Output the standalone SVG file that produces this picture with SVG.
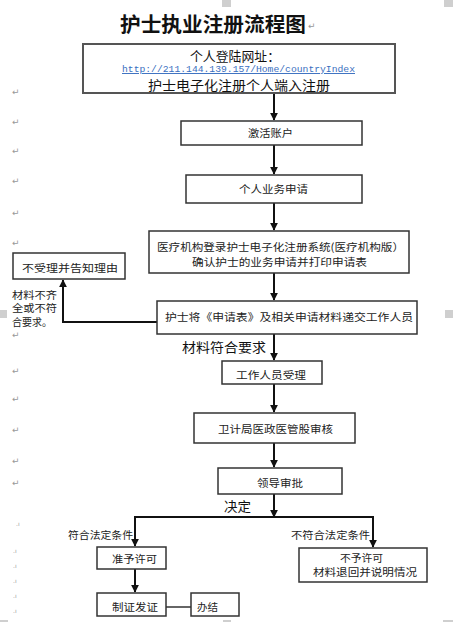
<svg xmlns="http://www.w3.org/2000/svg" width="457" height="622" viewBox="0 0 457 622">
<style>
.box{fill:#fff;stroke:#333;stroke-width:1.5}
.t{font-family:"Noto Sans CJK SC","Noto Sans",sans-serif;font-size:10.5px;fill:#222}
.b{font-family:"Noto Sans CJK SC","Noto Sans",sans-serif;font-size:13px;fill:#111}
.pm{font-family:"DejaVu Sans",sans-serif;font-size:9px;fill:#999}
.ln{fill:none;stroke:#111;stroke-width:2}
.hd{fill:#cfcfcf}
</style>
<defs>
<marker id="ah" viewBox="0 0 10 10" refX="9" refY="5" markerWidth="4" markerHeight="4" orient="auto" markerUnits="strokeWidth">
<path d="M0,0 L10,5 L0,10 z" fill="#111"/>
</marker>
</defs>
<rect width="457" height="622" fill="#fff"/>
<g id="handles">
<rect class="hd" x="222" y="0" width="9" height="7"/>
<rect class="hd" x="444" y="0" width="9" height="7"/>
<rect class="hd" x="0" y="310" width="7" height="8"/>
<rect class="hd" x="445" y="310" width="8" height="8"/>
<rect class="hd" x="0" y="620" width="8" height="2"/>
<rect class="hd" x="223" y="620" width="8" height="2"/>
<rect class="hd" x="443" y="620" width="10" height="2"/>
</g>
<g id="title">
<text x="120" y="32" font-family="'Noto Sans CJK SC',sans-serif" font-size="20" font-weight="700" fill="#111" textLength="186" lengthAdjust="spacingAndGlyphs">护士执业注册流程图</text>
<text class="pm" x="308" y="29" font-size="10">↵</text>
</g>
<g id="marks" class="pm">
<text x="12" y="95">↵</text><text x="12" y="125">↵</text><text x="12" y="154">↵</text><text x="12" y="184">↵</text><text x="12" y="216">↵</text><text x="12" y="246">↵</text><text x="12" y="338">↵</text><text x="12" y="374">↵</text><text x="12" y="402">↵</text><text x="12" y="433">↵</text><text x="12" y="464">↵</text><text x="12" y="486">↵</text>
<text x="16" y="526" font-size="6">.ı</text><text x="13" y="553" font-size="6">.ı</text><text x="13" y="568" font-size="6">.ı</text><text x="13" y="583" font-size="6">.ı</text><text x="13" y="598" font-size="6">.ı</text><text x="13" y="613" font-size="6">.ı</text>
</g>
<g id="connectors">
<line class="ln" x1="274" y1="93" x2="274" y2="120" marker-end="url(#ah)"/>
<line class="ln" x1="274" y1="145" x2="274" y2="174" marker-end="url(#ah)"/>
<line class="ln" x1="274" y1="203" x2="274" y2="230" marker-end="url(#ah)"/>
<line class="ln" x1="274" y1="273" x2="274" y2="300" marker-end="url(#ah)"/>
<line class="ln" x1="274" y1="334" x2="274" y2="360" marker-end="url(#ah)"/>
<line class="ln" x1="274" y1="384" x2="274" y2="412" marker-end="url(#ah)"/>
<line class="ln" x1="274" y1="443" x2="274" y2="467" marker-end="url(#ah)"/>
<line class="ln" x1="274" y1="494" x2="274" y2="517" marker-end="url(#ah)"/>
<polyline class="ln" points="157,322 63,322 63,280" marker-end="url(#ah)"/>
<polyline class="ln" points="135,546 135,517 373,517 373,547" marker-end="url(#ah)"/>
<line class="ln" x1="135" y1="518" x2="135" y2="546" marker-end="url(#ah)"/>
<line class="ln" x1="135" y1="569" x2="135" y2="592" marker-end="url(#ah)"/>
<line x1="166" y1="607" x2="191" y2="607" stroke="#333" stroke-width="1.5"/>
<text class="b" x="182" y="352" textLength="84" lengthAdjust="spacingAndGlyphs">材料符合要求</text>
<text class="b" x="224" y="511" textLength="27" lengthAdjust="spacingAndGlyphs">决定</text>
<text class="t" x="68" y="539" font-size="9.5" textLength="65" lengthAdjust="spacingAndGlyphs">符合法定条件</text>
<text class="t" x="291" y="539" font-size="9.5" textLength="79" lengthAdjust="spacingAndGlyphs">不符合法定条件</text>
<text class="t" x="12" y="298.5" font-size="9" textLength="45" lengthAdjust="spacingAndGlyphs">材料不齐</text>
<text class="t" x="12" y="312" font-size="9" textLength="45" lengthAdjust="spacingAndGlyphs">全或不符</text>
<text class="t" x="12" y="325.5" font-size="9" textLength="40" lengthAdjust="spacingAndGlyphs">合要求。</text>
</g>
<g id="n1">
<rect x="83" y="44" width="312" height="49" fill="#fff" stroke="#555" stroke-width="2"/>
<text class="b" x="190" y="61" textLength="90" lengthAdjust="spacingAndGlyphs">个人登陆网址：</text>
<text x="122" y="72" font-family="'Liberation Mono',monospace" font-size="9.6" fill="#3a6fc0" text-decoration="underline" textLength="233" lengthAdjust="spacingAndGlyphs">http://211.144.139.157/Home/countryIndex</text>
<text class="b" x="148" y="89.5" font-size="12.5" textLength="182" lengthAdjust="spacingAndGlyphs">护士电子化注册个人端入注册</text>
</g>
<g id="n2">
<rect class="box" x="181" y="121" width="181" height="24"/>
<text class="t" x="248" y="137" textLength="45" lengthAdjust="spacingAndGlyphs">激活账户</text>
</g>
<g id="n3">
<rect class="box" x="186" y="175" width="176" height="28"/>
<text class="t" x="239" y="193" textLength="69" lengthAdjust="spacingAndGlyphs">个人业务申请</text>
</g>
<g id="n4">
<rect class="box" x="149" y="231" width="260" height="42"/>
<text class="t" x="157" y="251" textLength="247" lengthAdjust="spacingAndGlyphs">医疗机构登录护士电子化注册系统(医疗机构版）</text>
<text class="t" x="192" y="266" textLength="175" lengthAdjust="spacingAndGlyphs">确认护士的业务申请并打印申请表</text>
</g>
<g id="n5">
<rect class="box" x="13" y="253" width="112" height="26"/>
<text class="t" x="22" y="272" textLength="96" lengthAdjust="spacingAndGlyphs">不受理并告知理由</text>
</g>
<g id="n6">
<rect class="box" x="157" y="301" width="260" height="33"/>
<text class="t" x="165" y="321" textLength="248" lengthAdjust="spacingAndGlyphs">护士将《申请表》及相关申请材料递交工作人员</text>
</g>
<g id="n7">
<rect class="box" x="222" y="361" width="100" height="23"/>
<text class="t" x="236" y="379" textLength="70" lengthAdjust="spacingAndGlyphs">工作人员受理</text>
</g>
<g id="n8">
<rect class="box" x="194" y="413" width="161" height="30"/>
<text class="t" x="218" y="433" textLength="115" lengthAdjust="spacingAndGlyphs">卫计局医政医管股审核</text>
</g>
<g id="n9">
<rect class="box" x="218" y="468" width="124" height="26"/>
<text class="t" x="257" y="487" textLength="46" lengthAdjust="spacingAndGlyphs">领导审批</text>
</g>
<g id="n10">
<rect class="box" x="97" y="547" width="69" height="22"/>
<text class="t" x="112" y="563" textLength="45" lengthAdjust="spacingAndGlyphs">准予许可</text>
</g>
<g id="n11">
<rect class="box" x="299" y="548" width="128" height="34"/>
<text class="t" x="340" y="562" font-size="11" textLength="43" lengthAdjust="spacingAndGlyphs">不予许可</text>
<text class="t" x="313" y="576" textLength="104" lengthAdjust="spacingAndGlyphs">材料退回并说明情况</text>
</g>
<g id="n12">
<rect class="box" x="97" y="593" width="69" height="23"/>
<text class="t" x="112" y="611" textLength="46" lengthAdjust="spacingAndGlyphs">制证发证</text>
</g>
<g id="n13">
<rect class="box" x="191" y="593" width="48" height="23"/>
<text class="t" x="197" y="611" textLength="21" lengthAdjust="spacingAndGlyphs">办结</text>
</g>
</svg>
